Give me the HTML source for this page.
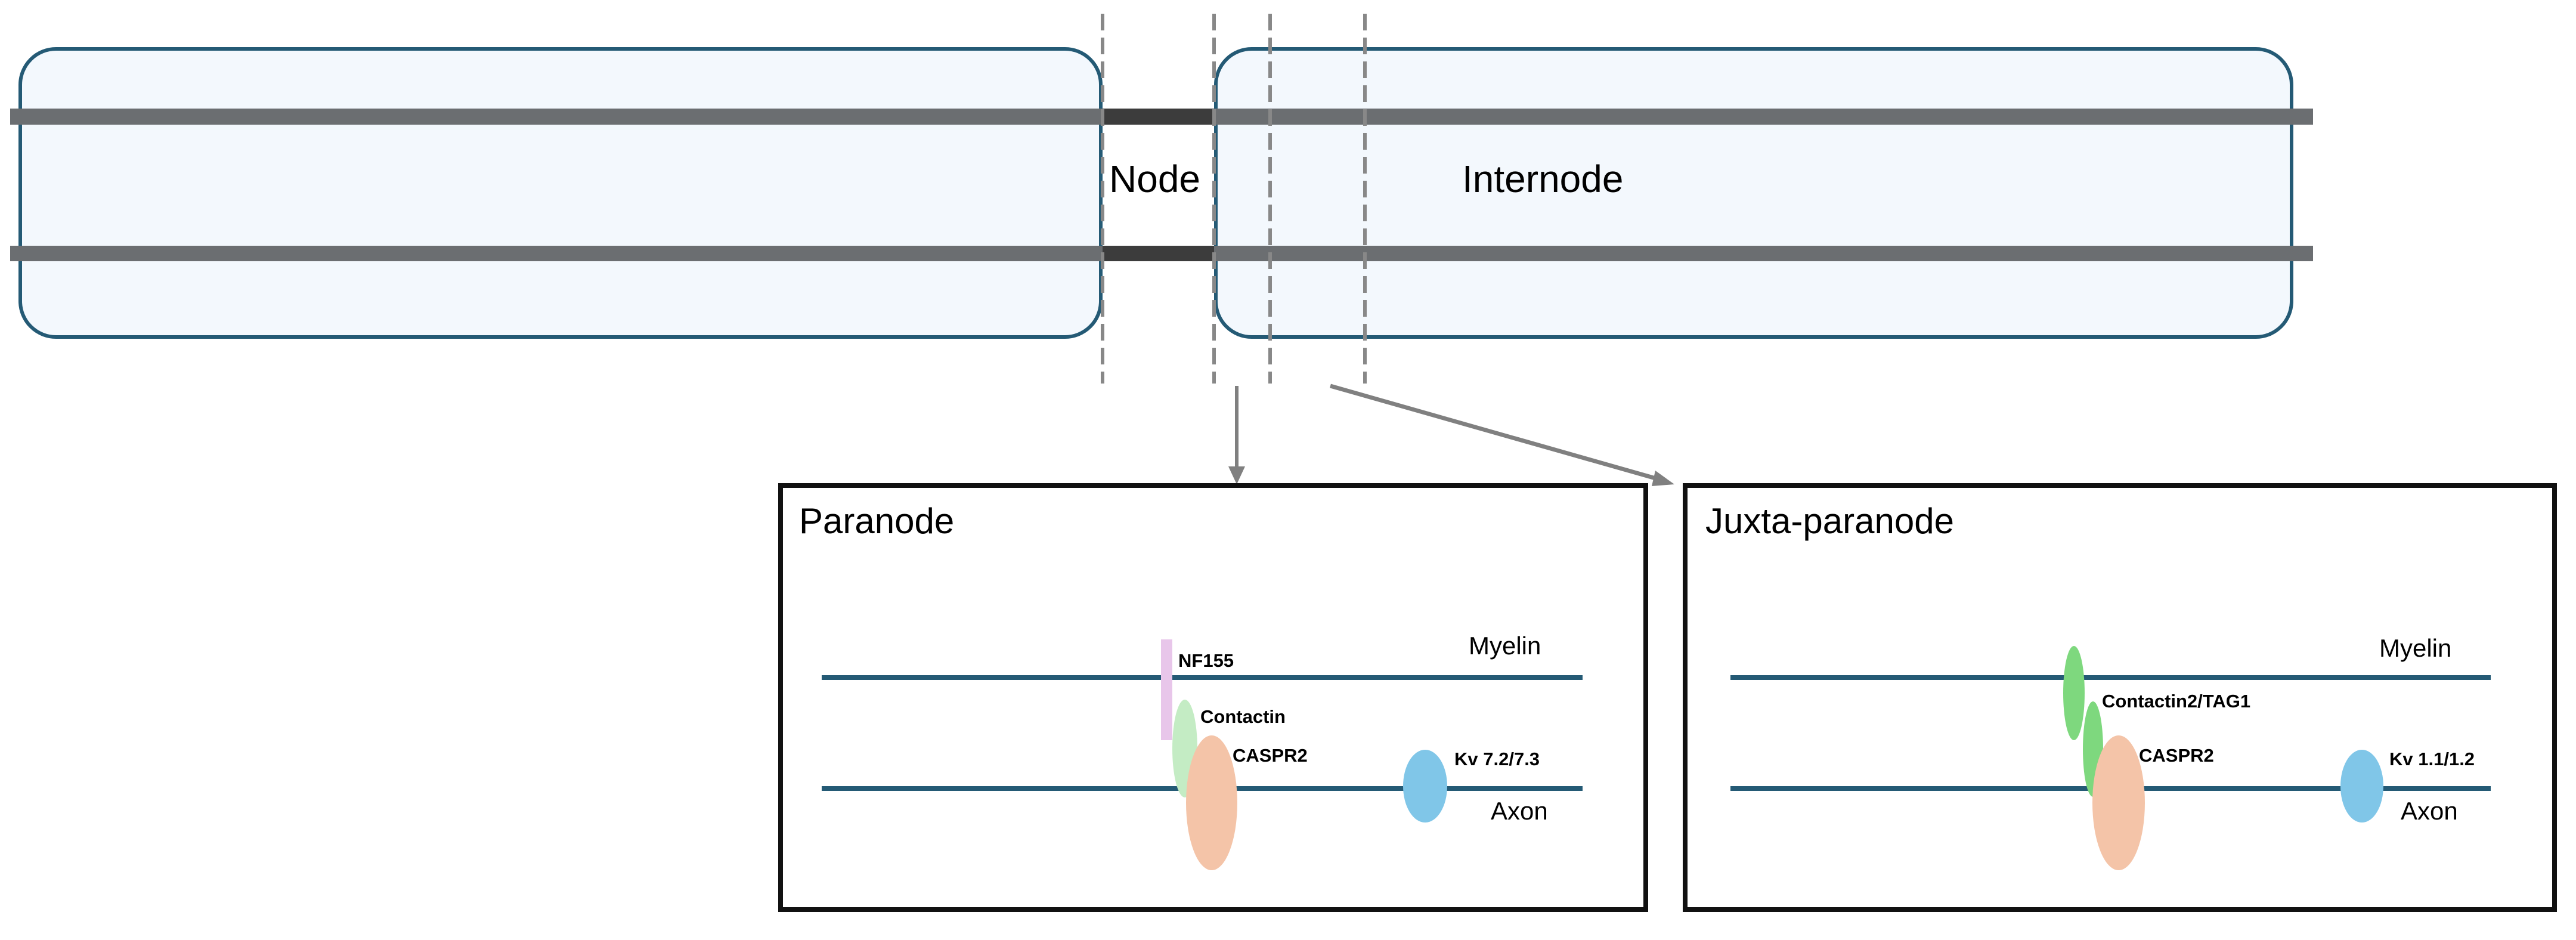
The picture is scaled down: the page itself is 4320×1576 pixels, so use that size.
<!DOCTYPE html>
<html><head><meta charset="utf-8"><style>
html,body{margin:0;padding:0;background:#fff;}
svg{display:block;}
text{font-family:"Liberation Sans",sans-serif;}
</style></head><body>
<svg width="4320" height="1576" viewBox="0 0 4320 1576" xmlns="http://www.w3.org/2000/svg">
<defs>
<marker id="ah" markerWidth="10" markerHeight="10" refX="7" refY="5" orient="auto" markerUnits="userSpaceOnUse" viewBox="0 0 10 10">
</marker>
</defs>
<!-- capsules -->
<rect x="34" y="82" width="1812" height="483" rx="60" ry="60" fill="#f3f8fd" stroke="#245a75" stroke-width="6"/>
<rect x="2039" y="82" width="1804" height="483" rx="60" ry="60" fill="#f3f8fd" stroke="#245a75" stroke-width="6"/>
<!-- bars -->
<rect x="17" y="182" width="3862" height="27" fill="#6b6e71"/>
<rect x="17" y="412" width="3862" height="26" fill="#6b6e71"/>
<rect x="1849" y="182" width="187" height="27" fill="#3c3c3c"/>
<rect x="1849" y="412" width="187" height="26" fill="#3c3c3c"/>
<!-- dashed lines -->
<g stroke="#888" stroke-width="6" stroke-dasharray="28 12">
<line x1="1849" y1="23" x2="1849" y2="643"/>
<line x1="2036" y1="23" x2="2036" y2="643"/>
<line x1="2130" y1="23" x2="2130" y2="643"/>
<line x1="2289" y1="23" x2="2289" y2="643"/>
</g>
<text x="1860" y="322" font-size="64" fill="#000">Node</text>
<text x="2452" y="322" font-size="64" fill="#000">Internode</text>
<!-- arrows -->
<line x1="2074" y1="647" x2="2074" y2="785" stroke="#808080" stroke-width="6"/>
<polygon points="2060,782 2088,782 2074,812" fill="#808080"/>
<line x1="2231" y1="647" x2="2780" y2="803" stroke="#808080" stroke-width="7"/>
<polygon points="2776,789 2770,815 2808,812" fill="#808080"/>
<!-- Paranode box -->
<rect x="1309" y="814" width="1451" height="711" fill="#fff" stroke="#111" stroke-width="8"/>
<text x="1340" y="894" font-size="60" fill="#000">Paranode</text>
<line x1="1378" y1="1136" x2="2654" y2="1136" stroke="#245a75" stroke-width="8"/>
<line x1="1378" y1="1322" x2="2654" y2="1322" stroke="#245a75" stroke-width="8"/>
<rect x="1947" y="1072" width="19" height="169" fill="#e8c6ea"/>
<ellipse cx="1987" cy="1255" rx="21" ry="82" fill="#c4ecc4"/>
<ellipse cx="2032" cy="1346" rx="43" ry="113" fill="#f4c4a8"/>
<ellipse cx="2390" cy="1318" rx="37" ry="61" fill="#80c6e8"/>
<g font-weight="bold" font-size="31" fill="#000">
<text x="1976" y="1118">NF155</text>
<text x="2013" y="1212">Contactin</text>
<text x="2067" y="1277">CASPR2</text>
<text x="2439" y="1283">Kv 7.2/7.3</text>
</g>
<text x="2463" y="1097" font-size="42" fill="#000">Myelin</text>
<text x="2500" y="1374" font-size="42" fill="#000">Axon</text>
<!-- Juxta box -->
<rect x="2826" y="814" width="1458" height="711" fill="#fff" stroke="#111" stroke-width="8"/>
<text x="2860" y="894" font-size="60" fill="#000">Juxta-paranode</text>
<line x1="2902" y1="1136" x2="4177" y2="1136" stroke="#245a75" stroke-width="8"/>
<line x1="2902" y1="1322" x2="4177" y2="1322" stroke="#245a75" stroke-width="8"/>
<ellipse cx="3478" cy="1162" rx="18" ry="79" fill="#7ed87e"/>
<ellipse cx="3510" cy="1256" rx="17" ry="80" fill="#7ed87e"/>
<ellipse cx="3553" cy="1346" rx="44" ry="113" fill="#f4c4a8"/>
<ellipse cx="3961" cy="1318" rx="36" ry="61" fill="#80c6e8"/>
<g font-weight="bold" font-size="31" fill="#000">
<text x="3525" y="1186">Contactin2/TAG1</text>
<text x="3587" y="1277">CASPR2</text>
<text x="4007" y="1283">Kv 1.1/1.2</text>
</g>
<text x="3990" y="1101" font-size="42" fill="#000">Myelin</text>
<text x="4026" y="1374" font-size="42" fill="#000">Axon</text>
</svg>
</body></html>
